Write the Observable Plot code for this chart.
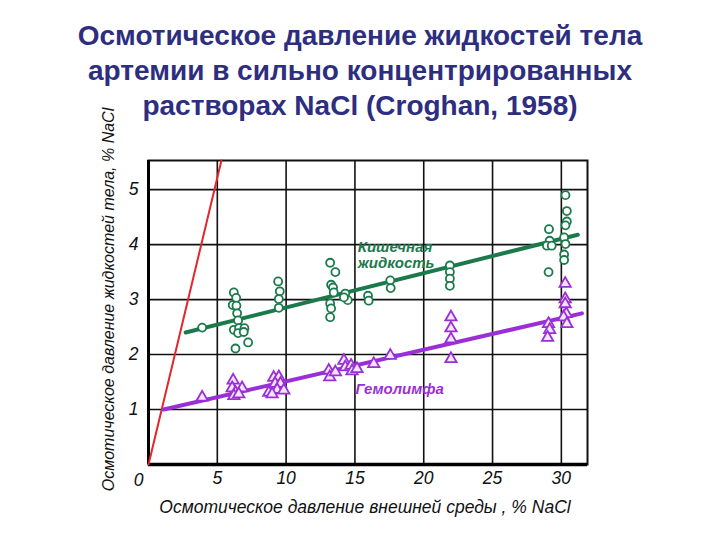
<!DOCTYPE html>
<html><head><meta charset="utf-8">
<script src="https://cdn.jsdelivr.net/npm/d3@7"></script>
<script src="https://cdn.jsdelivr.net/npm/@observablehq/plot@0.6"></script>
<style>
body{margin:0;background:#fff;}
#wrap{position:relative;width:720px;height:540px;overflow:hidden;}
#title{position:absolute;top:18px;left:0;width:720px;text-align:center;font:bold 28px "Liberation Sans",Arial,sans-serif;color:#2e2e80;line-height:35px;z-index:2;}
#chart{position:absolute;top:0;left:0;}
</style></head><body>
<div id="wrap"><div id="title">Осмотическое давление жидкостей тела<br>артемии в сильно концентрированных<br>растворах NaCl (Croghan, 1958)</div><div id="chart"></div></div>
<script>
// Intestinal fluid (circles)
const gutX = [3.9, 6.2, 6.37, 6.12, 6.39, 6.44, 6.51, 6.2, 6.58, 6.97, 6.51, 6.92, 7.24, 6.32, 9.42, 9.54, 9.47, 9.47, 13.2, 13.58, 13.27, 13.41, 13.46, 13.2, 13.27, 13.2, 14.3, 14.48, 14.2, 15.95, 16.0, 17.57, 17.6, 21.9, 21.9, 21.9, 21.9, 30.3, 30.4, 30.4, 30.3, 29.1, 29.15, 28.95, 29.3, 30.2, 30.3, 30.2, 30.2, 29.07];
const gutY = [2.49, 3.13, 3.03, 2.90, 2.89, 2.75, 2.62, 2.45, 2.48, 2.48, 2.39, 2.41, 2.22, 2.11, 3.33, 3.15, 3.01, 2.85, 3.67, 3.50, 3.27, 3.22, 3.13, 2.93, 2.84, 2.68, 3.11, 2.99, 3.04, 3.07, 2.98, 3.35, 3.21, 3.62, 3.50, 3.38, 3.25, 4.90, 4.61, 4.42, 4.35, 4.28, 4.07, 3.98, 3.98, 4.13, 4.01, 3.82, 3.72, 3.50];
// Hemolymph (triangles)
const hemoX = [3.9, 6.15, 6.08, 6.32, 6.8, 6.2, 6.56, 9.1, 9.47, 9.2, 9.59, 8.74, 9.35, 9.83, 8.98, 13.1, 13.17, 13.58, 14.2, 14.3, 14.72, 14.79, 15.15, 16.37, 17.57, 21.98, 21.98, 21.98, 21.98, 29.07, 29.15, 29.0, 30.28, 30.28, 30.28, 30.36, 30.16, 30.4];
const hemoY = [1.22, 1.53, 1.39, 1.31, 1.39, 1.25, 1.28, 1.58, 1.59, 1.47, 1.47, 1.31, 1.36, 1.35, 1.28, 1.71, 1.59, 1.68, 1.89, 1.77, 1.80, 1.70, 1.74, 1.83, 1.98, 2.68, 2.48, 2.28, 1.92, 2.56, 2.45, 2.31, 3.29, 3.01, 2.92, 2.74, 2.68, 2.56];
// Fitted lines
const gutLineX = [2.7, 31.2], gutLineY = [2.4, 4.18];
const hemoLineX = [1.1, 31.5], hemoLineY = [1.0, 2.75];
// Isosmotic line
const isoX = [0, 5.3], isoY = [0, 5.53];
// Ticks
const xTicks = [5, 10, 15, 20, 25, 30];
const yTicks = [1, 2, 3, 4, 5];
const originLabel = ["0"];
const seriesLabels = [
  {x: 15.2, y: 3.81, t: "Кишечная\nжидкость", c: "#1b7a4b"},
  {x: 15.05, y: 1.38, t: "Гемолимфа", c: "#9b2fd6"}
];

const pts = (X, Y) => X.map((x, i) => ({x, y: Y[i]}));
const gut = pts(gutX, gutY);
const hemo = pts(hemoX, hemoY);

const green = "#1b7a4b", purple = "#9b2fd6", red = "#e3262b";
const tickFont = {fontSize: 17.5, fontStyle: "italic"};

const chart = Plot.plot({
  width: 720, height: 540,
  marginLeft: 148, marginRight: 133, marginTop: 160, marginBottom: 76,
  x: {domain: [0, 31.9]},
  y: {domain: [0, 5.53]},
  style: {background: "transparent", fontFamily: "'Liberation Sans', Arial, sans-serif", color: "#111"},
  marks: [
    Plot.gridX(xTicks, {stroke: "#111", strokeOpacity: 1, strokeWidth: 1.6}),
    Plot.gridY(yTicks, {stroke: "#111", strokeOpacity: 1, strokeWidth: 1.6}),
    Plot.frame({stroke: "#111", strokeWidth: 2}),
    Plot.ruleX([0], {stroke: "#000", strokeWidth: 3}),
    Plot.ruleY([0], {stroke: "#000", strokeWidth: 3.5}),
    Plot.line(pts(isoX, isoY), {x: "x", y: "y", stroke: red, strokeWidth: 2}),
    Plot.line(pts(gutLineX, gutLineY), {x: "x", y: "y", stroke: green, strokeWidth: 4}),
    Plot.line(pts(hemoLineX, hemoLineY), {x: "x", y: "y", stroke: purple, strokeWidth: 4}),
    Plot.dot(gut, {x: "x", y: "y", r: 4, stroke: green, strokeWidth: 1.8, fill: "white"}),
    Plot.dot(hemo, {x: "x", y: "y", r: 4.2, symbol: "triangle", stroke: purple, strokeWidth: 1.8, fill: "#f3e6fb"}),
    Plot.axisX(xTicks, {tickSize: 0, tickPadding: 7, label: null, tickFormat: "d", ...tickFont}),
    Plot.axisY(yTicks, {tickSize: 0, tickPadding: 10, label: null, tickFormat: "d", ...tickFont}),
    Plot.text(originLabel, {x: () => 0, y: () => 0, text: d => d, dx: -10, dy: 16, fill: "#111", ...tickFont}),
    Plot.text(seriesLabels, {x: "x", y: "y", text: "t", fill: "c", textAnchor: "start", fontSize: 15, fontStyle: "italic", fontWeight: "bold", lineHeight: 1.05}),
    Plot.text(["Осмотическое давление внешней среды , % NaCl"], {frameAnchor: "bottom", textAnchor: "middle", lineAnchor: "middle", dx: -3, dy: 43, fontSize: 17.5, fontStyle: "italic"}),
    Plot.text(["Осмотическое давление жидкостей тела, % NaCl"], {frameAnchor: "left", textAnchor: "middle", lineAnchor: "middle", dx: -40, dy: -13, rotate: -90, fontSize: 16, fontStyle: "italic"})
  ]
});
document.getElementById("chart").append(chart);
</script>
</body></html>
